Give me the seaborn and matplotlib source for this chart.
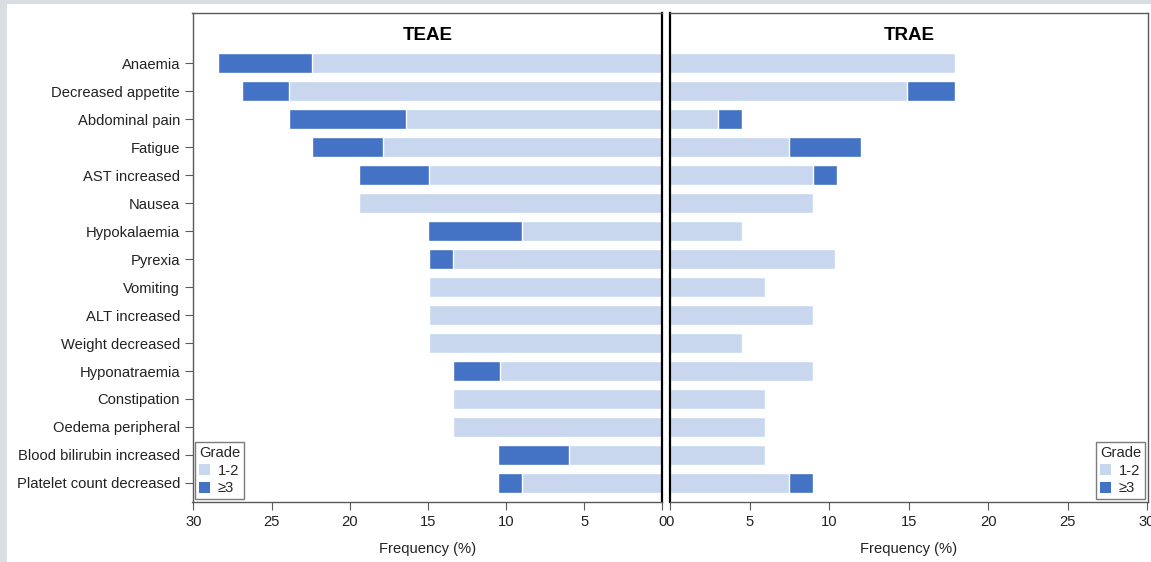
import matplotlib
matplotlib.use("Agg")
import matplotlib.pyplot as plt
from matplotlib.patches import Patch, Rectangle
import pandas as pd
import seaborn as sns

# Adverse events, percentage of patients (N = 67)
events = [
    "Anaemia", "Decreased appetite", "Abdominal pain", "Fatigue", "AST increased",
    "Nausea", "Hypokalaemia", "Pyrexia", "Vomiting", "ALT increased",
    "Weight decreased", "Hyponatraemia", "Constipation", "Oedema peripheral",
    "Blood bilirubin increased", "Platelet count decreased",
]
teae_g12 = [22.4, 23.9, 16.4, 17.9, 14.9, 19.4, 9.0, 13.4, 14.9, 14.9, 14.9, 10.4, 13.4, 13.4, 6.0, 9.0]
teae_g3 = [6.0, 3.0, 7.5, 4.5, 4.5, 0.0, 6.0, 1.5, 0.0, 0.0, 0.0, 3.0, 0.0, 0.0, 4.5, 1.5]
trae_g12 = [17.9, 14.9, 3.0, 7.5, 9.0, 9.0, 4.5, 10.4, 6.0, 9.0, 4.5, 9.0, 6.0, 6.0, 6.0, 7.5]
trae_g3 = [0.0, 3.0, 1.5, 4.5, 1.5, 0.0, 0.0, 0.0, 0.0, 0.0, 0.0, 0.0, 0.0, 0.0, 0.0, 1.5]
panels = ["TEAE", "TRAE"]
grade_labels = ["1-2", "\u22653"]
x_ticks = [0, 5, 10, 15, 20, 25, 30]

LIGHT = "#c8d6ee"
DARK = "#4472c4"
FRAME = "#5a5a5a"
TXT = "#222222"
FS = 10.6

sns.set_style("ticks")
plt.rcParams["font.family"] = ["Liberation Sans", "DejaVu Sans"]

fig = plt.figure(figsize=(11.51, 5.62), dpi=100)
fig.patch.set_facecolor("#d8dee2")
fig.patches.append(Rectangle((7 / 1151, 0), 1, 1 - 4 / 562, transform=fig.transFigure,
                             facecolor="white", edgecolor="none", zorder=-10))

ax_l = fig.add_axes([192.5 / 1151, 1 - 502 / 562, (662.3 - 192.5) / 1151, 489 / 562])
ax_r = fig.add_axes([670 / 1151, 1 - 502 / 562, (1148 - 670) / 1151, 489 / 562])

data = {
    "TEAE": pd.DataFrame({"event": events, "g12": teae_g12, "g3": teae_g3}),
    "TRAE": pd.DataFrame({"event": events, "g12": trae_g12, "g3": trae_g3}),
}

for ax, name in zip([ax_l, ax_r], panels):
    df = data[name].copy()
    df["total"] = df["g12"] + df["g3"]
    sns.barplot(data=df, x="total", y="event", orient="h", color=DARK,
                saturation=1, width=0.72, ax=ax, order=events)
    sns.barplot(data=df, x="g12", y="event", orient="h", color=LIGHT,
                saturation=1, width=0.72, ax=ax, order=events)
    ax.set_ylim(15.68, -1.79)
    ax.set_xticks(x_ticks)
    ax.set_xticklabels([str(t) for t in x_ticks])
    ax.set_xlabel("Frequency (%)", fontsize=FS, color=TXT, labelpad=10)
    ax.set_ylabel("")
    ax.text(0.5, 0.955, name, transform=ax.transAxes, ha="center", va="center",
            fontsize=13.5, fontweight="bold", color="black")
    for s in ax.spines.values():
        s.set_visible(True)
        s.set_color(FRAME)
        s.set_linewidth(1.0)
    ax.tick_params(axis="x", length=6, color=FRAME, labelsize=FS, labelcolor=TXT, pad=3)
    handles = [Patch(facecolor=LIGHT, edgecolor="none"), Patch(facecolor=DARK, edgecolor="none")]
    leg = ax.legend(handles, grade_labels, title="Grade",
                    loc="lower left" if name == "TEAE" else "lower right",
                    fontsize=FS, title_fontsize=FS, frameon=True, fancybox=False,
                    handlelength=0.75, handleheight=0.75, handletextpad=0.5,
                    borderpad=0.25, labelspacing=0.25, borderaxespad=0.2)
    leg.get_frame().set_edgecolor(FRAME)
    leg.get_frame().set_linewidth(1.0)
    leg._legend_box.align = "left"

ax_l.set_xlim(30.06, 0)
ax_r.set_xlim(0, 30.05)
ax_l.spines["right"].set_color("black")
ax_l.spines["right"].set_linewidth(1.6)
ax_r.spines["left"].set_color("black")
ax_r.spines["left"].set_linewidth(1.6)
ax_l.tick_params(axis="y", length=6, color=FRAME, labelsize=FS, labelcolor=TXT, pad=3)
ax_r.tick_params(axis="y", left=False, labelleft=False)

fig.savefig("out.png", dpi=100, facecolor=fig.get_facecolor())
